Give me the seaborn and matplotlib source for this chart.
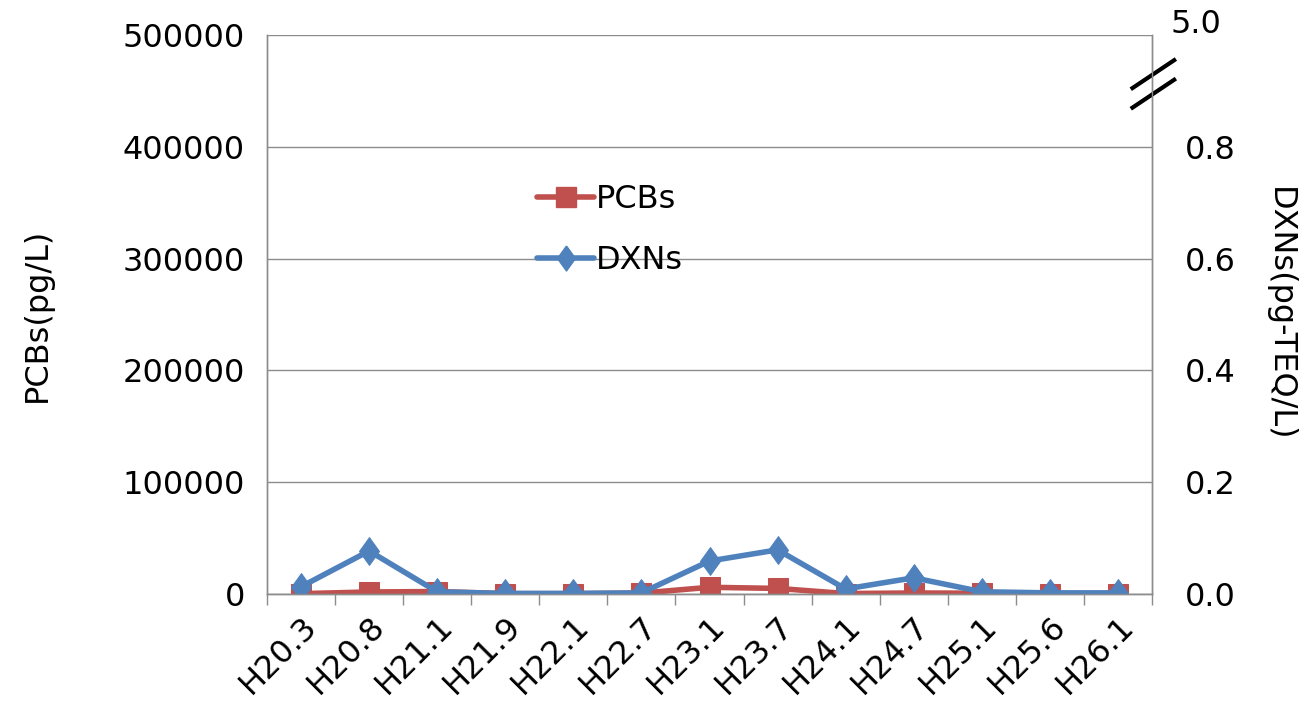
"""Recreate the PCBs / DXNs dual-axis line chart."""

import matplotlib
matplotlib.use("Agg")
import matplotlib.pyplot as plt
from matplotlib.lines import Line2D
import numpy as np
import pandas as pd
import seaborn as sns

categories = ["H20.3", "H20.8", "H21.1", "H21.9", "H22.1", "H22.7", "H23.1",
              "H23.7", "H24.1", "H24.7", "H25.1", "H25.6", "H26.1"]
pcbs = [300, 1800, 2200, 300, 300, 800, 6000, 5000, 400, 900, 700, 300, 300]
dxns = [0.013, 0.077, 0.004, 0.001, 0.001, 0.002, 0.059, 0.079, 0.009,
        0.029, 0.004, 0.002, 0.002]
left_ticks = [0, 100000, 200000, 300000, 400000, 500000]
right_ticks = [0.0, 0.2, 0.4, 0.6, 0.8]
right_top_label = "5.0"

RED = "#C0504D"
BLUE = "#4F81BD"
GRID = "#8c8c8c"
FS = 23
# tall diamond like the spreadsheet marker
DIAMOND = [(0, 1.0), (0.72, 0), (0, -1.0), (-0.72, 0), (0, 1.0)]

sns.set_theme(style="white")
plt.rcParams["font.family"] = ["DejaVu Sans"]
plt.rcParams["text.color"] = "black"
plt.rcParams["axes.labelcolor"] = "black"
plt.rcParams["xtick.color"] = "black"
plt.rcParams["ytick.color"] = "black"

df = pd.DataFrame({"date": categories, "PCBs": pcbs, "DXNs": dxns})

fig = plt.figure(figsize=(13.08, 7.08), dpi=100)
ax = fig.add_axes([267 / 1308, 1 - 594 / 708, (1152 - 267) / 1308, (594 - 35) / 708])
ax2 = ax.twinx()

sns.lineplot(data=df, x="date", y="PCBs", sort=False, color=RED, lw=4,
             marker="s", markersize=14, markeredgecolor=RED, ax=ax)
sns.lineplot(data=df, x="date", y="DXNs", sort=False, color=BLUE, lw=4,
             marker=DIAMOND, markersize=20, markeredgecolor=BLUE, ax=ax2)

ax.set_xlim(-0.5, len(categories) - 0.5)
ax.set_ylim(0, 500000)
ax2.set_ylim(0, 1.0)

ax.set_yticks(left_ticks)
ax.set_yticklabels([str(v) for v in left_ticks], fontsize=FS)
ax.grid(axis="y", color=GRID, lw=1)
ax.set_axisbelow(True)
ax2.set_yticks(right_ticks)
ax2.set_yticklabels([f"{v:.1f}" for v in right_ticks], fontsize=FS)
ax.tick_params(axis="y", length=0, pad=16)
ax2.tick_params(axis="y", length=0, pad=24)

# category labels centred, tick marks between categories
ax.set_xticks(range(len(categories)))
ax.set_xticklabels(categories, rotation=45, ha="right", rotation_mode="anchor",
                   fontsize=FS)
ax.set_xticks(np.arange(-0.5, len(categories), 1.0), minor=True)
ax.tick_params(axis="x", which="major", length=0, pad=12)
ax.tick_params(axis="x", which="minor", length=8, width=1, color=GRID,
               direction="out", bottom=True)

ax.set_xlabel("")
ax.set_ylabel("PCBs(pg/L)", fontsize=FS, labelpad=50)
ax2.set_ylabel("DXNs(pg-TEQ/L)", fontsize=FS, rotation=-90, labelpad=42)

for a in (ax, ax2):
    a.spines["top"].set_visible(False)
    for side in ("left", "right", "bottom"):
        a.spines[side].set_color(GRID)
        a.spines[side].set_linewidth(1)

# broken-axis label and marks on the right axis
ax2.text(1.05, 1.018, right_top_label, transform=ax2.transAxes,
         fontsize=FS, ha="center", va="center")
for dy in (0.0, -0.035):
    ax2.plot([0.976, 1.027], [0.903 + dy, 0.957 + dy], transform=ax2.transAxes,
             color="black", lw=3, clip_on=False, solid_capstyle="butt")

handles = [
    Line2D([], [], color=RED, lw=4, marker="s", markersize=14),
    Line2D([], [], color=BLUE, lw=4, marker=DIAMOND, markersize=18),
]
fig.legend(handles, ["PCBs", "DXNs"], loc="upper left",
           bbox_to_anchor=(508 / 1308, 1 - 155 / 708), frameon=False,
           fontsize=FS, handlelength=1.8, handletextpad=0.05, labelspacing=0.95)

fig.savefig("out.png", dpi=100)
